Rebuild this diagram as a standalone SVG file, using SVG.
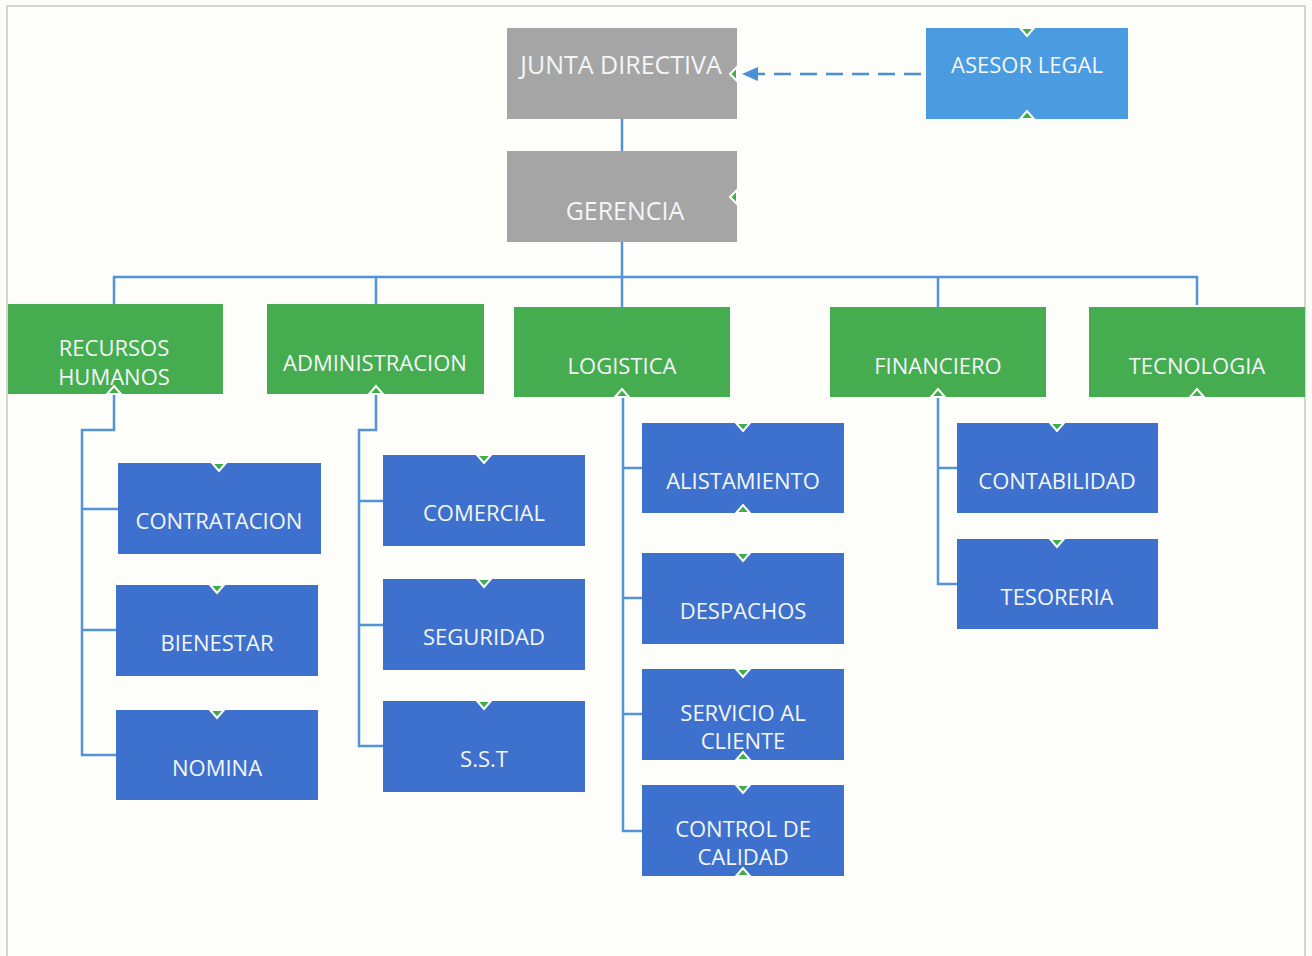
<svg xmlns="http://www.w3.org/2000/svg" width="1312" height="956" viewBox="0 0 1312 956">
<defs>
<style>
.bg{fill:#fdfdfa}
.border{fill:none;stroke:#d4d4d0;stroke-width:2}
.gray{fill:#a5a5a5}
.lblue{fill:#4a9bdf}
.green{fill:#45ad4f}
.blue{fill:#3e71cd}
.t{font-family:"Open Sans","Noto Sans","Liberation Sans",sans-serif;font-size:22px;fill:#f4f6f8;text-anchor:middle}
.big{font-size:25px}
.con{fill:none;stroke:#5394d8;stroke-width:2.5}
.dash{fill:none;stroke:#4a8fd8;stroke-width:2.5;stroke-dasharray:17 9}
.mk{fill:#3fae49;stroke:#ffffff;stroke-width:2;stroke-linejoin:miter}
</style>
</defs>
<rect class="bg" x="0" y="0" width="1312" height="956"/>
<path class="border" d="M7,956 V6 H1305 V956"/>

<g id="connectors">
<line class="con" x1="622" y1="119" x2="622" y2="151"/>
<path class="con" d="M622,242 V307"/>
<path class="con" d="M114,305 V277 H1197 V305"/>
<line class="con" x1="376" y1="277" x2="376" y2="305"/>
<line class="con" x1="938" y1="277" x2="938" y2="307"/>
<path class="con" d="M114,394 V430 H82 V755 H116 M82,509 H118 M82,630 H116"/>
<path class="con" d="M376,394 V430 H359 V746 H383 M359,501 H383 M359,625 H383"/>
<path class="con" d="M623,397 V831 H642 M623,468 H642 M623,598 H642 M623,714 H642"/>
<path class="con" d="M938,397 V584 H957 M938,468 H957"/>
<line class="dash" x1="921" y1="74" x2="758" y2="74"/>
<path d="M742,74 L758,67 L758,81 z" fill="#4a8fd8"/>
</g>

<g id="junta">
<rect class="gray" x="507" y="28" width="230" height="91"/>
<text class="t big" x="621" y="74">JUNTA DIRECTIVA</text>
<path class="mk" d="M737,67 L730,74 L737,81 z"/>
</g>
<g id="asesor">
<rect class="lblue" x="926" y="28" width="202" height="91"/>
<text class="t" x="1027" y="73">ASESOR LEGAL</text>
<path class="mk" d="M1020,28 L1034,28 L1027,36 z"/>
<path class="mk" d="M1020,119 L1034,119 L1027,111 z"/>
</g>
<g id="gerencia">
<rect class="gray" x="507" y="151" width="230" height="91"/>
<text class="t big" x="625" y="220">GERENCIA</text>
<path class="mk" d="M737,190 L730,197 L737,204 z"/>
</g>

<g id="rrhh">
<rect class="green" x="8" y="304" width="215" height="90"/>
<text class="t" x="114" y="356">RECURSOS</text>
<text class="t" x="114" y="385">HUMANOS</text>
<path class="mk" d="M107,394 L121,394 L114,386 z"/>
</g>
<g id="admin">
<rect class="green" x="267" y="304" width="217" height="90"/>
<text class="t" x="375" y="371">ADMINISTRACION</text>
<path class="mk" d="M369,394 L383,394 L376,386 z"/>
</g>
<g id="logistica">
<rect class="green" x="514" y="307" width="216" height="90"/>
<text class="t" x="622" y="374">LOGISTICA</text>
<path class="mk" d="M615,397 L629,397 L622,389 z"/>
</g>
<g id="financiero">
<rect class="green" x="830" y="307" width="216" height="90"/>
<text class="t" x="938" y="374">FINANCIERO</text>
<path class="mk" d="M931,397 L945,397 L938,389 z"/>
</g>
<g id="tecnologia">
<rect class="green" x="1089" y="307" width="216" height="90"/>
<text class="t" x="1197" y="374">TECNOLOGIA</text>
<path class="mk" d="M1190,397 L1204,397 L1197,389 z"/>
</g>

<g id="contratacion">
<rect class="blue" x="118" y="463" width="203" height="91"/>
<text class="t" x="219" y="529">CONTRATACION</text>
<path class="mk" d="M212,463 L226,463 L219,471 z"/>
</g>
<g id="bienestar">
<rect class="blue" x="116" y="585" width="202" height="91"/>
<text class="t" x="217" y="651">BIENESTAR</text>
<path class="mk" d="M210,585 L224,585 L217,593 z"/>
</g>
<g id="nomina">
<rect class="blue" x="116" y="710" width="202" height="90"/>
<text class="t" x="217" y="776">NOMINA</text>
<path class="mk" d="M210,710 L224,710 L217,718 z"/>
</g>

<g id="comercial">
<rect class="blue" x="383" y="455" width="202" height="91"/>
<text class="t" x="484" y="521">COMERCIAL</text>
<path class="mk" d="M477,455 L491,455 L484,463 z"/>
</g>
<g id="seguridad">
<rect class="blue" x="383" y="579" width="202" height="91"/>
<text class="t" x="484" y="645">SEGURIDAD</text>
<path class="mk" d="M477,579 L491,579 L484,587 z"/>
</g>
<g id="sst">
<rect class="blue" x="383" y="701" width="202" height="91"/>
<text class="t" x="484" y="767">S.S.T</text>
<path class="mk" d="M477,701 L491,701 L484,709 z"/>
</g>

<g id="alistamiento">
<rect class="blue" x="642" y="423" width="202" height="90"/>
<text class="t" x="743" y="489">ALISTAMIENTO</text>
<path class="mk" d="M736,423 L750,423 L743,431 z"/>
<path class="mk" d="M736,513 L750,513 L743,505 z"/>
</g>
<g id="despachos">
<rect class="blue" x="642" y="553" width="202" height="91"/>
<text class="t" x="743" y="619">DESPACHOS</text>
<path class="mk" d="M736,553 L750,553 L743,561 z"/>
</g>
<g id="servicio">
<rect class="blue" x="642" y="669" width="202" height="91"/>
<text class="t" x="743" y="721">SERVICIO AL</text>
<text class="t" x="743" y="749">CLIENTE</text>
<path class="mk" d="M736,669 L750,669 L743,677 z"/>
<path class="mk" d="M736,760 L750,760 L743,752 z"/>
</g>
<g id="control">
<rect class="blue" x="642" y="785" width="202" height="91"/>
<text class="t" x="743" y="837">CONTROL DE</text>
<text class="t" x="743" y="865">CALIDAD</text>
<path class="mk" d="M736,785 L750,785 L743,793 z"/>
<path class="mk" d="M736,876 L750,876 L743,868 z"/>
</g>

<g id="contabilidad">
<rect class="blue" x="957" y="423" width="201" height="90"/>
<text class="t" x="1057" y="489">CONTABILIDAD</text>
<path class="mk" d="M1050,423 L1064,423 L1057,431 z"/>
</g>
<g id="tesoreria">
<rect class="blue" x="957" y="539" width="201" height="90"/>
<text class="t" x="1057" y="605">TESORERIA</text>
<path class="mk" d="M1050,539 L1064,539 L1057,547 z"/>
</g>
</svg>
